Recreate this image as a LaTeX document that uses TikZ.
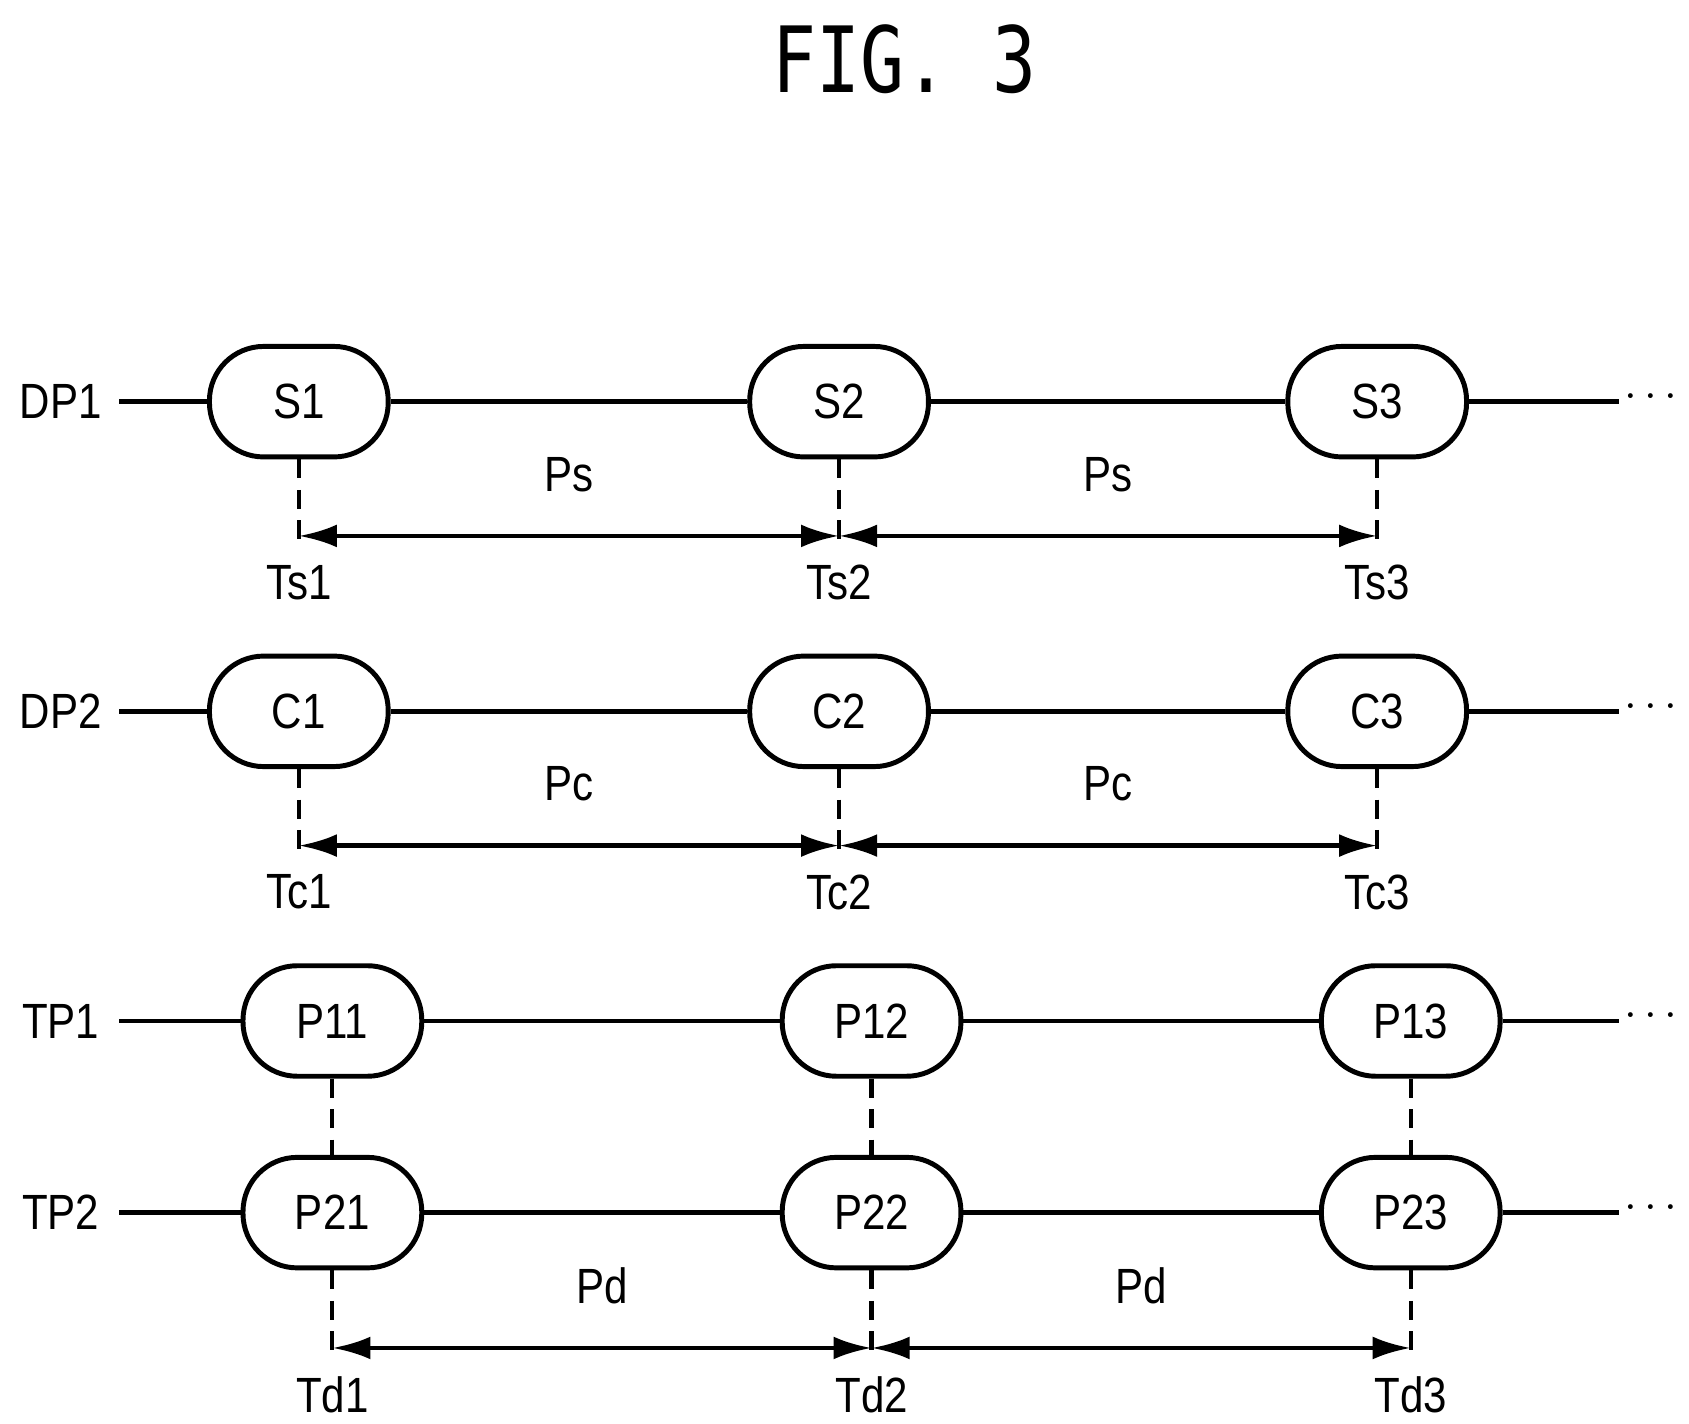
\documentclass[tikz,border=0pt]{standalone}
\usepackage{fontspec}
\setmainfont{Liberation Sans}[FakeStretch=0.85]
\newfontfamily\titlefont{DejaVu Sans Mono}[FakeStretch=0.8]
\usetikzlibrary{arrows.meta, positioning}

\tikzset{
  pill/.style={draw, line width=1.3pt, rounded corners=0.5cm, minimum width=1.65cm, minimum height=1.02cm, font=\fontsize{13}{13}\selectfont},
  wire/.style={line width=1.3pt},
  guide/.style={line width=1.1pt, dashed, dash pattern=on 5pt off 3pt},
  span/.style={line width=1.2pt, {Latex[length=10pt,width=6pt]}-{Latex[length=10pt,width=6pt]}},
  lbl/.style={font=\fontsize{13}{13}\selectfont, inner sep=1pt}
}

\begin{document}
\begin{tikzpicture}[x=0.01cm, y=-0.01cm]
    \useasboundingbox (0,0) rectangle (1560,1315);
    \node[font=\titlefont\fontsize{24}{24}\selectfont] (title) at (835,55) {FIG. 3};

    % data rows
    \foreach \row/\y/\tag/\per/\tm/\ay in {DP1/371/S/Ps/Ts/495, DP2/657/C/Pc/Tc/781} {
        \node[lbl] (\row) at (56,\y) {\row};
        \node[lbl] (\row dots) at (1525,\y-4) {$\cdots$};
        \foreach \i/\x in {1/276, 2/775, 3/1272} {
            \node[pill] (\tag\i) at (\x,\y) {\tag\i};
            \coordinate (\tag\i b) at (\x,\ay+5);
            \coordinate (\tag\i a) at (\x,\ay);
            \node[lbl] (\tm\i) at (\x,\ay+43) {\tm\i};
            \draw[guide] (\tag\i.south) -- (\tag\i b);
        }
        \draw[wire] (110,\y) coordinate (\row s) -- (\tag1.west);
        \draw[wire] (\tag1.east) -- (\tag2.west);
        \draw[wire] (\tag2.east) -- (\tag3.west);
        \draw[wire] (\tag3.east) -- (1495,\y) coordinate (\row e);
        \draw[span] (\tag1a) -- node[lbl, above=10pt] {\per} (\tag2a);
        \draw[span] (\tag2a) -- node[lbl, above=10pt] {\per} (\tag3a);
    }

    % touch rows
    \foreach \row/\y/\j in {TP1/943/1, TP2/1120/2} {
        \node[lbl] (\row) at (56,\y) {\row};
        \node[lbl] (\row dots) at (1525,\y-4) {$\cdots$};
        \foreach \i/\x in {1/307, 2/805, 3/1303}
            \node[pill] (P\j\i) at (\x,\y) {P\j\i};
        \draw[wire] (110,\y) coordinate (\row s) -- (P\j1.west);
        \draw[wire] (P\j1.east) -- (P\j2.west);
        \draw[wire] (P\j2.east) -- (P\j3.west);
        \draw[wire] (P\j3.east) -- (1495,\y) coordinate (\row e);
    }
    \foreach \i/\x in {1/307, 2/805, 3/1303} {
        \draw[guide] (P1\i.south) -- (P2\i.north);
        \coordinate (Pd\i b) at (\x,1250);
        \coordinate (Pd\i a) at (\x,1245);
        \node[lbl] (Td\i) at (\x,1288) {Td\i};
        \draw[guide] (P2\i.south) -- (Pd\i b);
    }
    \draw[span] (Pd1a) -- node[lbl, above=10pt] {Pd} (Pd2a);
    \draw[span] (Pd2a) -- node[lbl, above=10pt] {Pd} (Pd3a);
\end{tikzpicture}
\end{document}
